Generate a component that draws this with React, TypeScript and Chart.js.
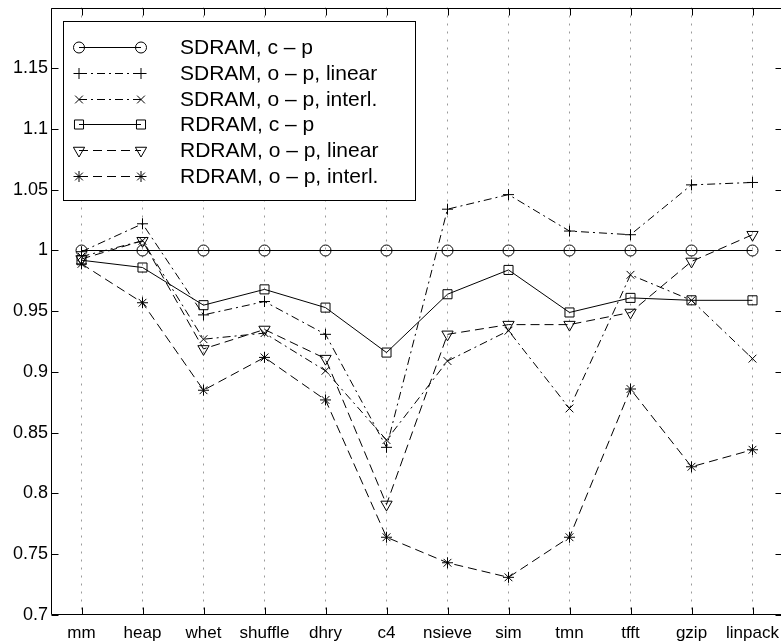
import React, { useEffect, useRef } from 'react';
import { Chart, registerables } from 'chart.js';
import { drawPoint } from 'chart.js/helpers';

Chart.register(...registerables);

const categories = ['mm', 'heap', 'whet', 'shuffle', 'dhry', 'c4', 'nsieve', 'sim', 'tmn', 'tfft', 'gzip', 'linpack'];
const seriesLabels = [
  'SDRAM, c – p',
  'SDRAM, o – p, linear',
  'SDRAM, o – p, interl.',
  'RDRAM, c – p',
  'RDRAM, o – p, linear',
  'RDRAM, o – p, interl.',
];
const sdramCP = [1, 1, 1, 1, 1, 1, 1, 1, 1, 1, 1, 1];
const sdramOPLinear = [0.999, 1.022, 0.947, 0.958, 0.931, 0.838, 1.034, 1.046, 1.016, 1.013, 1.054, 1.056];
const sdramOPInterl = [0.995, 1.008, 0.927, 0.932, 0.901, 0.844, 0.909, 0.934, 0.870, 0.980, 0.959, 0.911];
const rdramCP = [0.992, 0.986, 0.955, 0.968, 0.953, 0.916, 0.964, 0.984, 0.949, 0.961, 0.959, 0.959];
const rdramOPLinear = [0.993, 1.008, 0.919, 0.935, 0.911, 0.791, 0.931, 0.939, 0.939, 0.949, 0.991, 1.013];
const rdramOPInterl = [0.989, 0.957, 0.885, 0.912, 0.877, 0.764, 0.743, 0.731, 0.764, 0.886, 0.822, 0.836];
const yMin = 0.7;
const yMax = 1.2;
const yStep = 0.05;

const seriesValues = [sdramCP, sdramOPLinear, sdramOPInterl, rdramCP, rdramOPLinear, rdramOPInterl];

const FONT = '"Liberation Sans", Arial, Helvetica, sans-serif';
const DASH_DOT = [8, 4, 2, 4];
const DASHED = [9, 5];
const seriesStyles = [
  { pointStyle: 'circle', radius: 5.5, rotation: 0, dash: [] as number[] },
  { pointStyle: 'cross', radius: 5.5, rotation: 0, dash: DASH_DOT },
  { pointStyle: 'crossRot', radius: 5.5, rotation: 0, dash: DASH_DOT },
  { pointStyle: 'rect', radius: 6.4, rotation: 0, dash: [] as number[] },
  { pointStyle: 'triangle', radius: 6.5, rotation: 180, dash: DASHED },
  { pointStyle: 'star', radius: 5.5, rotation: 0, dash: DASHED },
];

const framePlugin = {
  id: 'matlabFrame',
  afterDatasetsDraw(chart: any) {
    const { ctx, chartArea } = chart;
    const xs = chart.scales.x;
    const ys = chart.scales.y;
    const L = Math.round(chartArea.left) + 0.5;
    const R = Math.round(chartArea.right) - 0.5;
    const T = Math.round(chartArea.top) + 0.5;
    const B = Math.round(chartArea.bottom) - 0.5;
    ctx.save();
    ctx.strokeStyle = '#000';
    ctx.lineWidth = 1;
    ctx.setLineDash([]);
    ctx.beginPath();
    ctx.rect(L, T, R - L, B - T);
    ctx.stroke();
    const tl = 7;
    ctx.beginPath();
    categories.forEach((_, i) => {
      const px = Math.round(xs.getPixelForValue(i)) + 0.5;
      ctx.moveTo(px, B);
      ctx.lineTo(px, B - tl);
      ctx.moveTo(px, T);
      ctx.lineTo(px, T + tl);
    });
    ys.ticks.forEach((t: any) => {
      const py = Math.round(ys.getPixelForValue(t.value)) + 0.5;
      ctx.moveTo(L, py);
      ctx.lineTo(L + tl, py);
      ctx.moveTo(R, py);
      ctx.lineTo(R - tl, py);
    });
    ctx.stroke();
    ctx.restore();
  },
  afterDraw(chart: any) {
    const { ctx } = chart;
    ctx.save();
    const bx = 63.5, by = 21.5, bw = 352, bh = 179;
    ctx.fillStyle = '#fff';
    ctx.fillRect(bx, by, bw, bh);
    ctx.strokeStyle = '#000';
    ctx.lineWidth = 1;
    ctx.setLineDash([]);
    ctx.strokeRect(bx, by, bw, bh);
    const x0 = 79, x1 = 141, tx = 180;
    seriesLabels.forEach((label, i) => {
      const st = seriesStyles[i];
      const y = Math.round(47 + i * 25.8) + 0.5;
      ctx.strokeStyle = '#000';
      ctx.lineWidth = 1;
      ctx.setLineDash(st.dash);
      ctx.beginPath();
      ctx.moveTo(x0, y);
      ctx.lineTo(x1, y);
      ctx.stroke();
      ctx.setLineDash([]);
      ctx.fillStyle = 'rgba(0,0,0,0)';
      const opts = { pointStyle: st.pointStyle, rotation: st.rotation, radius: st.radius, borderWidth: 1 };
      drawPoint(ctx, opts as any, x0, y);
      drawPoint(ctx, opts as any, x1, y);
      ctx.fillStyle = '#000';
      ctx.font = `21px ${FONT}`;
      ctx.textAlign = 'left';
      ctx.textBaseline = 'middle';
      ctx.fillText(label, tx, y + 1);
    });
    ctx.restore();
  },
};

export default function App() {
  const ref = useRef<HTMLCanvasElement | null>(null);
  useEffect(() => {
    if (!ref.current) return;
    const datasets = seriesValues.map((vals, i) => {
      const st = seriesStyles[i];
      return {
        label: seriesLabels[i],
        data: vals,
        borderColor: '#000',
        backgroundColor: 'rgba(0,0,0,0)',
        borderWidth: 1,
        borderDash: st.dash,
        pointStyle: st.pointStyle as any,
        pointRadius: st.radius,
        pointRotation: st.rotation,
        pointBorderWidth: 1,
        pointBorderColor: '#000',
        pointBackgroundColor: 'rgba(0,0,0,0)',
        tension: 0,
        fill: false,
      };
    });
    const chart = new Chart(ref.current, {
      type: 'line',
      data: { labels: categories, datasets },
      plugins: [framePlugin],
      options: {
        responsive: false,
        animation: false,
        devicePixelRatio: 1,
        layout: { padding: { left: 0, top: 5, right: 17, bottom: 0 } },
        plugins: { legend: { display: false }, tooltip: { enabled: false } },
        scales: {
          x: {
            type: 'category',
            offset: true,
            grid: {
              display: true,
              offset: false,
              drawTicks: false,
              color: '#9a9a9a',
              lineWidth: 1,
            },
            border: { display: false, dash: [2, 6] },
            ticks: {
              autoSkip: false,
              maxRotation: 0,
              minRotation: 0,
              padding: 8,
              color: '#000',
              font: { family: FONT, size: 17 },
            },
            afterFit(scale: any) {
              scale.height = 28;
              scale.paddingLeft = 0;
              scale.paddingRight = 0;
            },
          } as any,
          y: {
            type: 'linear',
            min: yMin,
            max: yMax,
            grid: { display: false, drawTicks: false },
            border: { display: false },
            ticks: {
              stepSize: yStep,
              padding: 3,
              color: '#000',
              font: { family: FONT, size: 18 },
              callback: (v: any) => {
                const n = Number(v);
                if (Math.abs(n - yMax) < 1e-6) return '';
                return String(parseFloat(n.toFixed(2)));
              },
            },
            afterFit(scale: any) {
              scale.width = 51;
              scale.paddingTop = 0;
              scale.paddingBottom = 0;
            },
          } as any,
        },
      },
    });
    return () => chart.destroy();
  }, []);
  return (
    <div style={{ position: 'fixed', left: 0, top: 0, width: 781, height: 643, overflow: 'hidden', background: '#fff' }}>
      <canvas ref={ref} width={800} height={643} style={{ display: 'block', width: 800, height: 643 }} />
    </div>
  );
}
